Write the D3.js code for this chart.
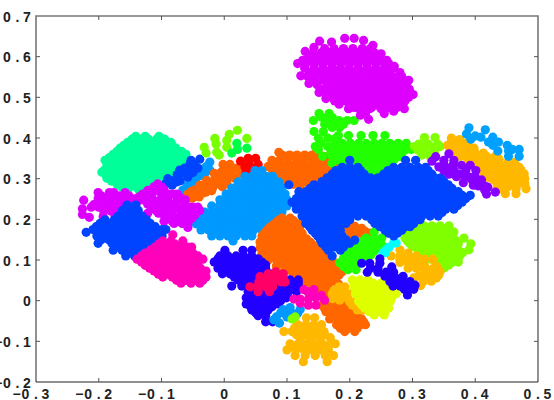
<!DOCTYPE html>
<html><head><meta charset="utf-8">
<style>html,body{margin:0;padding:0;background:#fff;overflow:hidden}svg{display:block}
text{font-family:"Liberation Sans",sans-serif;font-weight:bold;font-size:14px;fill:#222}</style>
<script src="https://cdn.jsdelivr.net/npm/d3@7"></script>
</head><body><div id="c"></div>
<script>
// every row: y value, then the x values read at that height
const xTicks=[-0.3,-0.2,-0.1,0,0.1,0.2,0.3,0.4,0.5];
const yTicks=[-0.2,-0.1,0,0.1,0.2,0.3,0.4,0.5,0.6,0.7];
const spring=[[.404,-.141,-.126,-.104],[.397,-.147,-.134,-.121,-.108,-.095],[.389,-.154,-.141,-.128,-.115,-.102,-.085],[.382,-.160,-.147,-.134,-.121,-.108,-.095,-.083],[.375,-.166,-.154,-.141,-.128,-.115,-.102,-.090,-.077],[.367,-.171,-.159,-.146,-.133,-.120,-.108,-.095,-.082,-.068],[.360,-.177,-.165,-.152,-.139,-.126,-.114,-.101,-.088,-.075,-.061],[.352,-.183,-.171,-.159,-.146,-.133,-.120,-.108,-.095,-.082,-.068],[.345,-.190,-.177,-.165,-.152,-.139,-.126,-.114,-.101,-.088,-.075,-.061],[.338,-.187,-.179,-.166,-.153,-.140,-.128,-.115,-.102,-.089,-.077,-.066],[.330,-.185,-.173,-.160,-.147,-.134,-.122,-.109,-.096,-.083,-.071],[.323,-.190,-.178,-.166,-.153,-.140,-.128,-.115,-.102,-.089,-.076],[.316,-.195,-.182,-.169,-.157,-.144,-.131,-.118,-.106,-.093,-.080],[.308,-.188,-.175,-.163,-.150,-.137,-.125,-.112,-.100,-.087],[.301,-.187,-.174,-.161,-.149,-.136,-.123,-.110,-.098],[.294,-.180,-.168,-.155,-.142,-.129,-.116,-.104],[.286,-.171,-.158,-.146,-.133,-.120,-.107],[.280,-.164,-.152,-.140,-.127,-.114],[.274,-.153,-.137]];
const azureStrip=[[.341,-.023],[.330,-.028],[.326,-.031],[.321,-.023],[.315,-.030,-.040],[.308,-.039,-.034],[.300,-.045],[.296,-.047],[.290,-.053],[.284,-.058],[.279,-.052],[.278,-.060],[.272,-.066]];
const blueStrip=[[.348,-.039],[.345,-.053],[.335,-.055,-.048],[.331,-.050],[.326,-.063,-.042],[.321,-.071],[.315,-.066,-.060,-.050],[.310,-.075],[.304,-.074,-.058],[.300,-.090],[.295,-.085,-.070],[.292,-.076],[.289,-.093],[.284,-.083]];
const limeDots=[[.419,.021],[.409,.008],[.399,-.015,.036],[.394,.004],[.385,-.013],[.377,-.032,.004],[.365,-.012],[.363,-.029],[.358,-.008]];
const greenDots=[[.387,.020],[.375,.036],[.372,.021],[.363,.012]];
const orangeBand=[[.335,-.002,.009],[.326,.020],[.320,.000],[.318,.011],[.316,-.005],[.313,-.016,.025],[.310,.011],[.305,-.011,.000],[.301,-.005,.006,.017],[.296,-.028,-.016,-.011],[.293,.000],[.289,.004],[.286,-.007,-.022],[.284,-.039],[.282,-.033],[.280,-.003],[.279,-.018,-.027],[.272,-.048],[.270,-.020],[.268,-.053],[.267,-.029],[.265,-.044,-.034],[.262,-.058],[.255,-.040],[.252,-.051]];
const red=[[.350,.038,.050],[.343,.026],[.335,.040,.054],[.329,.033],[.323,.046],[.316,.035]];
const orangeTop=[[.365,.087,.147],[.358,.092,.104,.116,.128,.140,.152],[.355,.098,.110,.134,.159],[.345,.076,.088,.121,.146,.172,.182],[.338,.078,.090,.102,.115,.127,.140,.153,.165,.178],[.330,.070,.082,.095,.108,.121,.134,.146,.159,.172],[.323,.076,.088,.101,.114,.127,.140,.152,.165],[.316,.081,.094,.107,.119,.132,.145,.158],[.308,.088,.101,.113,.126,.138,.151],[.301,.094,.107,.119,.132,.145],[.293,.100,.113,.126,.139,.150],[.286,.110,.122,.135],[.272,.121]];
const azureBig=[[.320,.049,.060],[.306,.033,.044,.055,.067,.077],[.299,.038,.050,.061,.072],[.292,.022,.033,.044,.055,.067,.078,.087],[.285,.028,.039,.050,.061,.072,.083],[.277,.012,.023,.035,.046,.057,.069,.080,.092],[.270,.018,.029,.040,.052,.063,.075,.086],[.262,.003,.014,.026,.037,.048,.060,.071,.083,.097],[.255,.009,.020,.032,.043,.054,.066,.077,.090],[.248,-.007,.004,.016,.027,.039,.050,.062,.073,.085,.100],[.240,-.001,.010,.022,.033,.045,.056,.068,.079,.092],[.233,-.020,-.008,.004,.016,.028,.040,.052,.064,.076,.088,.100],[.226,-.014,-.002,.010,.022,.034,.046,.058,.070,.082],[.218,-.031,-.019,-.007,.005,.017,.029,.041,.053,.065,.077,.092],[.211,-.025,-.013,-.001,.011,.023,.035,.047,.059,.071,.085],[.203,-.041,-.029,-.017,-.005,.007,.019,.031,.043,.055,.067,.082],[.196,-.035,-.023,-.011,.001,.013,.025,.037,.049,.061,.072],[.189,-.045,-.033,-.021,-.009,.003,.015,.027,.039,.051,.062,.069],[.181,-.031,-.019,-.007,.005,.017,.029,.041,.053],[.174,-.037,-.025,-.013,-.001,.011,.023,.035,.047,.060],[.167,-.014,-.001,.012,.026,.039],[.159,-.020,-.007,.006,.019,.033,.044],[.147,.014]];
const greenTop=[[.460,.151,.167],[.451,.155,.172],[.443,.142,.167,.183,.196,.207],[.434,.160,.175,.190],[.426,.172,.184],[.416,.143,.158],[.406,.182,.198,.218,.237,.256],[.400,.150,.165,.178],[.387,.154,.176,.188,.201,.214,.226,.239,.251,.264,.277,.290],[.379,.145,.165,.182,.195,.208,.220,.233,.245,.258,.271,.284],[.372,.150,.175,.188,.201,.214,.226,.239,.251,.264,.277,.290,.298],[.365,.170,.180,.195,.208,.220,.233,.245,.258,.271,.284],[.355,.157,.172,.188,.201,.214,.226,.239,.251,.264,.277,.280],[.347,.180,.195,.208,.220,.233,.245,.258,.271],[.338,.172,.188,.201,.214,.226,.239,.251,.264],[.321,.220,.233,.245,.258],[.309,.236,.249]];
const orangeBig=[[.203,.092,.105],[.196,.085,.098,.111],[.188,.079,.092,.105,.118],[.181,.073,.086,.099,.112,.120],[.173,.068,.081,.094,.107,.120],[.166,.064,.077,.090,.103,.116,.124],[.159,.060,.073,.086,.099,.112,.124],[.152,.066,.079,.092,.105,.118,.131],[.144,.057,.070,.083,.096,.108,.121,.137],[.137,.064,.077,.090,.102,.115,.128,.141],[.130,.057,.070,.083,.096,.108,.121,.134,.147],[.122,.066,.079,.092,.105,.118,.131,.144,.156],[.115,.060,.073,.086,.099,.112,.124,.137,.150,.163],[.107,.077,.090,.102,.115,.128,.141,.154,.167],[.100,.070,.083,.096,.108,.121,.134,.147,.160,.172],[.092,.090,.102,.115,.128,.141,.154,.167,.180],[.085,.083,.096,.108,.121,.134,.147,.160,.172,.185],[.078,.102,.115,.128,.141,.154,.167,.180,.190],[.071,.095,.108,.121,.134,.147,.160,.172,.188],[.063,.115,.121,.134,.147,.160,.172,.183],[.056,.115,.127,.140,.153,.166,.178],[.048,.133,.146,.160,.172],[.041,.127,.140,.153,.166,.182],[.034,.146,.160],[.027,.140,.153,.166],[.012,.150,.162]];
const orangeNotch=[[.193,.200],[.185,.195],[.183,.208],[.178,.219],[.175,.190],[.171,.224],[.170,.200],[.166,.213,.232],[.160,.205,.222]];
const indigoLow=[[.124,.001,.030,.044],[.110,-.007,.006,.019,.031,.044],[.103,-.010,.003,.016,.028,.041,.054],[.095,-.016,-.003,.009,.022,.035,.047,.060],[.088,-.009,.003,.016,.028,.041,.054,.066],[.080,-.010,.003,.016,.028,.041,.054,.066],[.073,.003,.016,.028,.041,.054,.066],[.066,-.003,.009,.022,.035,.047,.060,.073],[.058,.016,.028,.041,.054,.066,.079],[.051,.022,.035,.047,.060,.073,.105,.118],[.044,.028,.041,.054,.066,.079,.092,.105,.118],[.036,.012,.028,.041,.054,.066,.079,.092,.105,.118],[.029,.044,.057,.070,.083,.095,.108],[.022,.038,.051,.063,.076,.089,.102,.115],[.014,.041,.054,.066,.079,.092,.100],[.007,.035,.047,.060,.073,.086,.099],[.000,.041,.054,.066,.079,.090],[-.008,.035,.047,.060,.073,.086],[-.015,.042,.052,.064,.076],[-.023,.044,.057,.070],[-.030,.050,.062],[-.037,.054,.066],[-.052,.066,.077]];
const rose=[[.071,.082],[.066,.070,.094],[.059,.057,.070,.082,.094],[.046,.055,.066,.078,.091,.097],[.034,.041,.053,.066,.077],[.022,.054,.072]];
const orangeLow=[[-.011,.155,.168,.181,.194],[-.019,.160,.172,.185,.197],[-.027,.162,.175,.187,.200],[-.036,.172,.185,.198,.211],[-.045,.168,.181,.194,.207,.219],[-.052,.186,.199,.212,.222],[-.059,.179,.192,.205,.217,.225],[-.068,.185,.198,.212],[-.076,.192,.208]];
const amberSmall=[[.034,.183,.192],[.025,.175,.187],[.017,.172,.200],[.010,.180,.192],[.005,.172,.197],[.001,.184],[-.003,.200],[-.004,.208],[-.008,.205],[-.011,.204],[-.015,.214],[-.023,.212,.221]];
const yellowGreen=[[.051,.204,.216,.229],[.043,.211,.224,.237,.250],[.034,.206,.218,.231,.244,.257],[.026,.212,.225,.238,.251,.265],[.017,.209,.222,.234,.247,.260,.274],[.008,.215,.228,.241,.254,.267],[-.001,.214,.226,.239,.252,.265],[-.010,.219,.232,.245,.258],[-.018,.224,.237,.250,.262],[-.027,.231,.244,.256],[-.035,.239,.255]];
const amberBottom=[[-.042,.131,.144],[-.059,.117,.130,.143,.155],[-.067,.112,.125,.138,.151],[-.076,.095,.108,.120,.133,.146,.159],[-.084,.115,.129,.145,.160],[-.091,.121,.137,.153,.169],[-.106,.105,.118,.131,.143,.156,.169,.177],[-.113,.108,.121,.134,.147,.160],[-.121,.100,.114,.127,.140,.153,.166],[-.135,.113,.129,.145,.161,.174],[-.150,.126,.164]];
const azureSmall=[[-.017,.105],[-.022,.094,.121],[-.030,.090],[-.031,.096,.108,.117],[-.040,.083,.100,.103],[-.047,.079],[-.055,.088]];
const limeSmall=[[-.040,.113],[-.045,.108]];
const pinkSmall=[[.027,.127,.143],[.022,.133],[.013,.143,.155],[.004,.111,.121,.134],[.007,.146],[.001,.160],[-.006,.121],[-.011,.134,.146]];
const limeLow=[[.184,.318,.331,.344,.358],[.177,.310,.324,.337,.351],[.169,.302,.315,.328,.340,.353,.366],[.162,.294,.307,.320,.333,.346,.359],[.154,.288,.300,.313,.326,.339,.351,.364,.382],[.147,.292,.305,.318,.331,.344,.357,.370],[.140,.296,.309,.322,.334,.347,.360,.373,.393],[.133,.300,.315,.328,.341,.354,.367],[.125,.309,.322,.334,.347,.360,.373,.390],[.118,.315,.329,.342,.355,.368,.380],[.110,.325,.338,.351,.364,.375],[.102,.330,.344,.357,.369],[.095,.338,.351,.364,.373],[.088,.344,.358],[.081,.351]];
const amberMid=[[.125,.280],[.117,.293],[.110,.266,.280,.293,.306],[.105,.293],[.102,.280,.306,.319,.332],[.095,.306],[.094,.280,.293],[.090,.306],[.087,.319],[.085,.319,.338],[.080,.293,.306],[.078,.332],[.075,.319,.332],[.071,.344],[.070,.319,.332],[.063,.342],[.060,.310,.322],[.057,.332],[.056,.302,.322,.338],[.048,.318,.330],[.037,.313]];
const amberRight=[[.400,.362],[.396,.375],[.390,.362,.375,.388],[.382,.356,.368,.381],[.375,.360,.372,.385,.398],[.372,.395],[.363,.362,.375,.388,.400,.413],[.355,.376,.390,.403,.418,.432],[.348,.388,.400,.413,.425,.438],[.340,.397,.411,.425,.438,.452,.463],[.336,.460],[.328,.405,.418,.431,.445,.458,.470],[.321,.408,.421,.434,.448,.460,.473],[.312,.415,.428,.441,.454,.467,.478],[.303,.421,.436,.448,.461,.473],[.300,.479],[.296,.430,.442,.454,.460,.467,.475],[.290,.437,.449,.462,.475],[.287,.479],[.280,.435,.452,.465],[.275,.440,.465,.481],[.263,.448,.465]];
const limeRightTop=[[.401,.319,.336],[.385,.310,.325,.340],[.379,.303,.319,.329,.344],[.370,.309],[.364,.319,.335],[.358,.315,.330],[.352,.329]];
const skyRight=[[.425,.390],[.420,.416],[.410,.386],[.405,.400],[.402,.409,.428],[.397,.393],[.390,.421,.437],[.382,.428,.451],[.372,.459,.470],[.368,.436,.453],[.355,.453,.470]];
const greenLow=[[.169,.239],[.154,.226,.239,.251],[.145,.220,.233,.245],[.137,.213,.226,.239,.251],[.130,.207,.220,.233,.245,.258],[.122,.200,.213,.226,.239],[.113,.195,.208,.221,.234],[.105,.190,.202,.215,.228],[.098,.190,.203,.216],[.093,.184,.197,.209],[.084,.190,.203],[.076,.197,.210]];
const cyan=[[.142,.270,.274],[.132,.263],[.125,.258],[.118,.253,.257]];
const indigoRight=[[.103,.248],[.092,.219,.232,.248],[.083,.267],[.080,.233,.245],[.070,.228,.245,.258,.270],[.060,.256,.262,.269,.285],[.055,.274],[.047,.264,.278,.296],[.045,.290],[.040,.276],[.038,.304],[.036,.269,.280,.288],[.030,.300],[.028,.287,.302],[.014,.292]];
const blueBig=[[.345,.200,.289,.305],[.328,.188,.200,.213,.270,.283,.296,.309,.321],[.320,.178,.191,.204,.217,.261,.274,.287,.300,.312,.325],[.311,.172,.185,.197,.210,.223,.254,.267,.280,.293,.305,.318,.331],[.302,.164,.178,.194,.207,.220,.233,.245,.258,.271,.284,.296,.309,.322,.335,.345],[.293,.156,.172,.188,.200,.213,.226,.239,.251,.264,.277,.290,.302,.315,.328,.341,.350],[.285,.103,.143,.156,.168,.181,.194,.207,.220,.233,.245,.258,.271,.284,.296,.309,.322,.335,.347,.357],[.276,.137,.149,.162,.175,.188,.200,.213,.226,.239,.251,.264,.277,.290,.302,.315,.328,.341,.353,.363],[.268,.119,.130,.143,.156,.168,.181,.194,.207,.220,.233,.245,.258,.271,.284,.296,.309,.322,.335,.347,.360,.373],[.259,.121,.137,.149,.162,.175,.188,.200,.213,.226,.239,.251,.264,.277,.290,.302,.315,.328,.341,.353,.366,.379,.392],[.251,.115,.130,.143,.156,.168,.181,.194,.207,.220,.233,.245,.258,.271,.284,.296,.309,.322,.335,.347,.360,.373,.385],[.242,.108,.121,.137,.149,.162,.175,.188,.200,.213,.226,.239,.251,.264,.277,.290,.302,.315,.328,.341,.353,.366,.379],[.234,.115,.130,.143,.156,.168,.181,.194,.207,.220,.233,.245,.258,.271,.284,.296,.309,.322,.335,.347,.360,.372],[.225,.115,.124,.137,.149,.162,.175,.188,.200,.213,.226,.239,.251,.264,.277,.290,.302,.315,.328,.341,.353,.366],[.217,.130,.143,.156,.168,.181,.194,.207,.220,.233,.245,.258,.271,.284,.296,.309,.322,.335,.347],[.208,.124,.137,.149,.162,.175,.188,.200,.213,.226,.239,.251,.264,.277,.290,.302,.315,.328,.341],[.199,.130,.137,.150,.163,.175,.188,.200,.235,.247,.260,.273,.286,.299,.312],[.190,.130,.143,.156,.169,.181,.194,.240,.253,.266,.279,.292,.302],[.182,.136,.148,.160,.172,.182,.248,.262,.275,.288,.296],[.173,.140,.153,.166,.178,.185,.256,.268,.283],[.166,.145,.157,.170,.183,.262,.276],[.159,.149,.162,.175,.188,.270],[.150,.153,.167,.180,.194],[.149,.208],[.141,.156,.172,.188,.200],[.132,.162,.176,.190],[.124,.166,.185],[.110,.172]];
const violet=[[.361,.358],[.354,.337],[.345,.350,.366],[.343,.331],[.335,.350,.365],[.333,.378,.392],[.329,.342],[.326,.358],[.320,.350,.366,.385,.401],[.311,.358,.374],[.305,.370,.384,.400],[.303,.392],[.297,.395,.410],[.293,.408],[.290,.381],[.284,.397],[.282,.405,.415],[.279,.420],[.272,.415],[.267,.432],[.262,.418]];
const magentaTop=[[.645,.192,.207],[.640,.222],[.638,.152],[.636,.171],[.628,.237],[.623,.143],[.620,.160,.175,.190,.205,.220,.233],[.613,.129],[.610,.142,.155,.169,.183,.197,.211,.225,.239],[.607,.250],[.600,.135,.148,.162,.176,.190,.204,.218,.232,.245],[.591,.125,.137,.151,.165,.179,.193,.207,.221,.235,.249,.259],[.583,.117,.130,.144,.158,.172,.186,.200,.214,.228,.242,.256,.262],[.576,.271],[.572,.128,.143,.157,.171,.185,.199,.213,.227,.241,.255,.269],[.561,.280,.136,.150,.164,.178,.192,.206,.220,.234,.248,.262],[.553,.122],[.551,.133,.143,.157,.171,.185,.199,.213,.227,.241,.255,.269,.283],[.542,.294,.145,.159,.173,.187,.201,.215,.229,.243,.257,.271,.283],[.534,.135],[.531,.148,.165,.179,.193,.207,.221,.235,.249,.263,.277,.290],[.520,.158,.172,.186,.200,.214,.228,.242,.256,.270,.284,.295],[.512,.151],[.510,.163,.179,.193,.207,.221,.235,.249,.263,.277,.289],[.507,.301],[.500,.172,.186,.200,.214,.228,.242,.256,.270,.284,.294],[.497,.162],[.491,.176,.193,.207,.221,.235,.249,.263,.277,.288],[.483,.183,.200,.214,.228,.242,.256,.270,.280],[.475,.207,.221,.235,.249,.263,.275],[.472,.198,.215,.232,.250,.287],[.466,.270],[.460,.225,.255],[.456,.217],[.446,.230]];
const magentaLeft=[[.266,-.201,-.183,-.176,-.158],[.258,-.196,-.180,-.167,-.152],[.251,-.201,-.188,-.176,-.163,-.150,-.141],[.247,-.224],[.240,-.181,-.168,-.155,-.140],[.236,-.208,-.192,-.175,-.162,-.148],[.230,-.212,-.200,-.185,-.172,-.160],[.226,-.226],[.220,-.192,-.180,-.167],[.212,-.226],[.207,-.193,-.174],[.205,-.215]];
const magentaMid=[[.287,-.106],[.280,-.112,-.100],[.273,-.096],[.271,-.122,-.105],[.262,-.130,-.115,-.100,-.090,-.082,-.075],[.255,-.136,-.122],[.252,-.069],[.248,-.130,-.115,-.102,-.090,-.075,-.062],[.245,-.110,-.095],[.237,-.122,-.110,-.082,-.064],[.231,-.057],[.230,-.115,-.102,-.090,-.076,-.050,-.042],[.222,-.109,-.096,-.083,-.070,-.059,-.047,-.039],[.215,-.122,-.105],[.210,-.096,-.083,-.070,-.058,-.047],[.202,-.090,-.076,-.064,-.052],[.195,-.096,-.083,-.070,-.058],[.190,-.080,-.067,-.058],[.180,-.058]];
const blueLeft=[[.235,-.155,-.141],[.222,-.162,-.149,-.137],[.208,-.169,-.156,-.143,-.131],[.199,-.190,-.175,-.162,-.149,-.137,-.124],[.190,-.198,-.182,-.169,-.156,-.143,-.131,-.118],[.182,-.204,-.190,-.175,-.162,-.149,-.137,-.124,-.110],[.175,-.209,-.190,-.177,-.165,-.152,-.139,-.126,-.114,-.099,-.093],[.168,-.220],[.167,-.197,-.184,-.171,-.158,-.145,-.132,-.120,-.106],[.159,-.203,-.190,-.177,-.165,-.152,-.139,-.126,-.114,-.099],[.150,-.196,-.184,-.171,-.159,-.146,-.134,-.121,-.107],[.141,-.201,-.179,-.166,-.153,-.141,-.128,-.115],[.132,-.172,-.159,-.147,-.134,-.121],[.124,-.177,-.163,-.150,-.137,-.125],[.117,-.155,-.143,-.131],[.110,-.157,-.143]];
const pinkLeft=[[.162,-.082],[.147,-.098,-.085,-.066],[.140,-.104,-.092,-.079,-.066],[.132,-.110,-.098,-.085,-.072,-.059,-.052],[.125,-.117,-.104,-.092,-.079,-.066,-.055],[.117,-.126,-.113,-.101,-.088,-.075,-.063,-.050],[.110,-.132,-.119,-.106,-.094,-.081,-.069,-.056,-.042],[.102,-.139,-.125,-.112,-.099,-.086,-.074,-.061,-.048,-.034],[.095,-.132,-.119,-.106,-.094,-.081,-.069,-.056,-.042],[.087,-.126,-.113,-.101,-.088,-.075,-.063,-.050],[.080,-.119,-.106,-.092,-.079,-.067,-.054,-.038],[.073,-.112,-.098,-.085,-.071,-.059,-.043,-.029],[.065,-.105,-.091,-.077,-.063,-.050,-.036],[.058,-.098,-.083,-.067,-.055,-.042,-.029],[.050,-.076,-.061,-.047,-.034],[.043,-.069,-.053,-.039]];

const colors=["#00ff99","#0099ff","#0044ff","#77ff00","#00ff44","#ff6600","#ff0000","#ff6600","#0099ff","#22ff00","#ff6600","#ff6600","#2200ff","#ff0066","#ff6600","#ffb800","#ddff00","#ffb800","#0099ff","#80ff00","#ff00bb","#80ff00","#ffb800","#80ff00","#ffb800","#00a0ff","#22ff00","#00ffff","#2200ff","#0044ff","#8800ff","#dd00ff","#dd00ff","#dd00ff","#0044ff","#ff00bb"];
const clusters=[spring,azureStrip,blueStrip,limeDots,greenDots,orangeBand,red,orangeTop,azureBig,greenTop,orangeBig,orangeNotch,indigoLow,rose,orangeLow,amberSmall,yellowGreen,amberBottom,azureSmall,limeSmall,pinkSmall,limeLow,amberMid,limeRightTop,amberRight,skyRight,greenLow,cyan,indigoRight,blueBig,violet,magentaTop,magentaLeft,magentaMid,blueLeft,pinkLeft];

const W=554,H=400,L=36,R=538,T=16,B=382,CELL=10;
const x=d3.scaleLinear().domain([-0.3,0.5]).range([L,R]);
const y=d3.scaleLinear().domain([-0.2,0.7]).range([B,T]);
const svg=d3.select("#c").append("svg").attr("width",W).attr("height",H);
const pts=r=>r.flatMap(row=>row.slice(1).map(v=>[v,row[0]]));
clusters.forEach((c,i)=>{
  svg.append("g").attr("fill",colors[i]).selectAll("circle").data(pts(c)).join("circle")
    .attr("cx",d=>x(d[0])).attr("cy",d=>y(d[1])).attr("r",4.6);
});
const f=d=>d===0?"0":d3.format(".1f")(d).replace("−","-").replace("-","\u2212");
const ax=svg.append("g");
ax.append("path").attr("d",`M${L},${B}V${T}H${R}V${B}`).attr("fill","none").attr("stroke","#777").attr("stroke-width",1.6);
ax.append("path").attr("d",`M${L},${B}H${R}`).attr("fill","none").attr("stroke","#222").attr("stroke-width",1.2);
xTicks.slice(1,-1).forEach(t=>ax.append("path").attr("d",`M${x(t)},${B}v-4M${x(t)},${T}v4`).attr("stroke","#555"));
yTicks.slice(1,-1).forEach(t=>ax.append("path").attr("d",`M${L},${y(t)}h4M${R},${y(t)}h-4`).attr("stroke","#555"));
// characters sit in fixed cells: the last one starts at `last`
function label(s,last,base){
  const n=s.length;
  const xs=Array.from(s,(c,i)=>last-(n-1-i)*CELL+(c==="."?2.5:c==="\u2212"?1:0));
  svg.append("text").attr("x",xs.join(" ")).attr("y",base).text(s);
}
xTicks.forEach(t=>label(f(t),x(t)+(t===0?-4:5.5),399));
yTicks.forEach(t=>label(f(t),23,y(t)+5.5));
</script></body></html>
